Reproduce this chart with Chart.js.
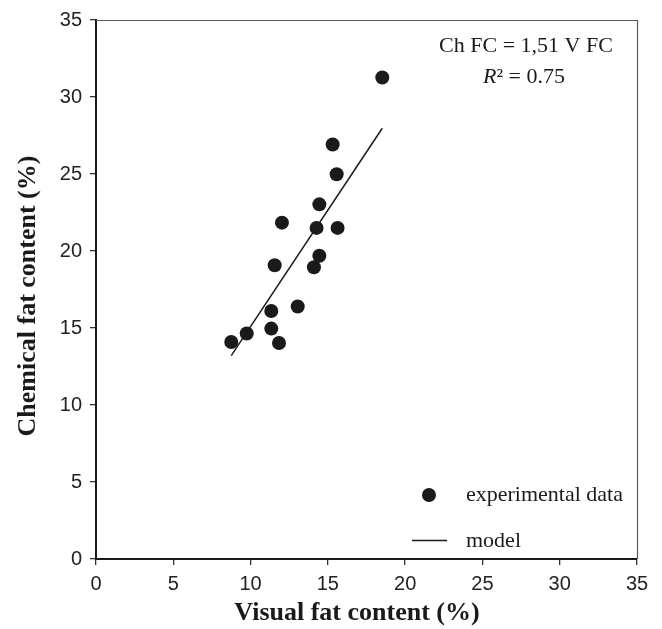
<!DOCTYPE html>
<html>
<head>
<meta charset="utf-8">
<script src="https://cdn.jsdelivr.net/npm/chart.js@4.4.1/dist/chart.umd.min.js"></script>
<style>
  html, body { margin: 0; padding: 0; background: #ffffff; }
  #wrap { width: 662px; height: 629px; }
</style>
</head>
<body>
<div id="wrap"><canvas id="c" width="662" height="629"></canvas></div>
<script>
// ---- data ----
const visualFat   = [18.52, 15.31, 15.57, 14.45, 12.03, 14.27, 15.63, 14.45, 14.10, 11.56, 13.05, 11.34, 11.34, 9.75, 8.75, 11.84];
const chemicalFat = [31.27, 26.92, 24.98, 23.03, 21.84, 21.50, 21.50, 19.69, 18.94, 19.07, 16.40, 16.10, 14.96, 14.64, 14.09, 14.03];
const modelX = [8.75, 18.52];
const modelY = [13.21, 27.97];
const xTicks = [0, 5, 10, 15, 20, 25, 30, 35];
const yTicks = [0, 5, 10, 15, 20, 25, 30, 35];
const xTitle = 'Visual fat content (%)';
const yTitle = 'Chemical fat content (%)';
const equationText = 'Ch FC = 1,51 V FC';
const r2Value = '0.75';
const seriesNames = ['experimental data', 'model'];

const scatterData = visualFat.map((x, i) => ({ x: x, y: chemicalFat[i] }));
const modelData = modelX.map((x, i) => ({ x: x, y: modelY[i] }));

const SERIF = '"Liberation Serif", "Times New Roman", serif';
const SANS = '"Liberation Sans", Arial, sans-serif';

const decorPlugin = {
  id: 'decor',
  beforeDatasetsDraw(chart) {
    const ctx = chart.ctx, a = chart.chartArea;
    ctx.save();
    // top and right frame lines (thin grey)
    ctx.strokeStyle = '#5a5a5a';
    ctx.lineWidth = 1.2;
    ctx.beginPath();
    ctx.moveTo(a.left, a.top + 0.5);
    ctx.lineTo(a.right + 0.5, a.top + 0.5);
    ctx.lineTo(a.right + 0.5, a.bottom);
    ctx.stroke();
    ctx.restore();
  },
  afterDraw(chart) {
    const ctx = chart.ctx;
    ctx.save();
    ctx.fillStyle = '#1a1a1a';
    // axis titles
    ctx.font = 'bold 26px ' + SERIF;
    ctx.textAlign = 'center';
    ctx.textBaseline = 'alphabetic';
    ctx.fillText(xTitle, 357, 620);
    ctx.save();
    ctx.translate(35, 296);
    ctx.rotate(-Math.PI / 2);
    ctx.fillText(yTitle, 0, 0);
    ctx.restore();

    // equation annotation
    ctx.font = '22px ' + SERIF;
    ctx.textAlign = 'center';
    ctx.fillText(equationText, 526, 52);
    // R² = 0.75
    const italic = 'italic 22px ' + SERIF;
    const regular = '22px ' + SERIF;
    ctx.font = italic;
    const wR = ctx.measureText('R').width;
    ctx.font = regular;
    const rest = '\u00B2 = ' + r2Value;
    const wRest = ctx.measureText(rest).width;
    const start = 524 - (wR + wRest) / 2;
    ctx.textAlign = 'left';
    ctx.font = italic;
    ctx.fillText('R', start, 83);
    ctx.font = regular;
    ctx.fillText(rest, start + wR, 83);

    // legend
    ctx.beginPath();
    ctx.arc(429, 495, 7, 0, Math.PI * 2);
    ctx.fill();
    ctx.strokeStyle = '#1a1a1a';
    ctx.lineWidth = 1.5;
    ctx.beginPath();
    ctx.moveTo(412, 540.5);
    ctx.lineTo(447, 540.5);
    ctx.stroke();
    ctx.font = '22px ' + SERIF;
    ctx.textAlign = 'left';
    ctx.fillText(seriesNames[0], 466, 501);
    ctx.fillText(seriesNames[1], 466, 547);
    ctx.restore();
  }
};

new Chart(document.getElementById('c'), {
  type: 'scatter',
  data: {
    datasets: [
      {
        label: seriesNames[0],
        data: scatterData,
        pointRadius: 7,
        pointHoverRadius: 7,
        pointBackgroundColor: '#1a1a1a',
        pointBorderColor: '#1a1a1a',
        pointBorderWidth: 0,
        showLine: false,
        order: 1
      },
      {
        label: seriesNames[1],
        type: 'line',
        data: modelData,
        borderColor: '#1a1a1a',
        borderWidth: 1.5,
        pointRadius: 0,
        fill: false,
        tension: 0,
        order: 2
      }
    ]
  },
  options: {
    responsive: false,
    maintainAspectRatio: false,
    devicePixelRatio: 1,
    animation: false,
    layout: { padding: { left: 0, right: 25, top: 17, bottom: 0 } },
    plugins: {
      legend: { display: false },
      tooltip: { enabled: false },
      title: { display: false }
    },
    scales: {
      x: {
        type: 'linear',
        min: 0, max: 35,
        afterBuildTicks(scale) { scale.ticks = xTicks.map(v => ({ value: v })); },
        afterFit(scale) { scale.height = 70; },
        ticks: {
          color: '#222222',
          font: { family: SANS, size: 20 },
          padding: 7,
          maxRotation: 0,
          autoSkip: false
        },
        grid: {
          drawOnChartArea: false,
          drawTicks: true,
          tickLength: 6,
          color: '#333333',
          lineWidth: 1.3
        },
        border: { display: true, color: '#1a1a1a', width: 2 },
        title: { display: false }
      },
      y: {
        type: 'linear',
        min: 0, max: 35,
        afterBuildTicks(scale) { scale.ticks = yTicks.map(v => ({ value: v })); },
        afterFit(scale) { scale.width = 96; },
        ticks: {
          color: '#222222',
          font: { family: SANS, size: 20 },
          padding: 8,
          autoSkip: false
        },
        grid: {
          drawOnChartArea: false,
          drawTicks: true,
          tickLength: 6,
          color: '#333333',
          lineWidth: 1.3
        },
        border: { display: true, color: '#1a1a1a', width: 2 },
        title: { display: false }
      }
    }
  },
  plugins: [decorPlugin]
});
</script>
</body>
</html>
